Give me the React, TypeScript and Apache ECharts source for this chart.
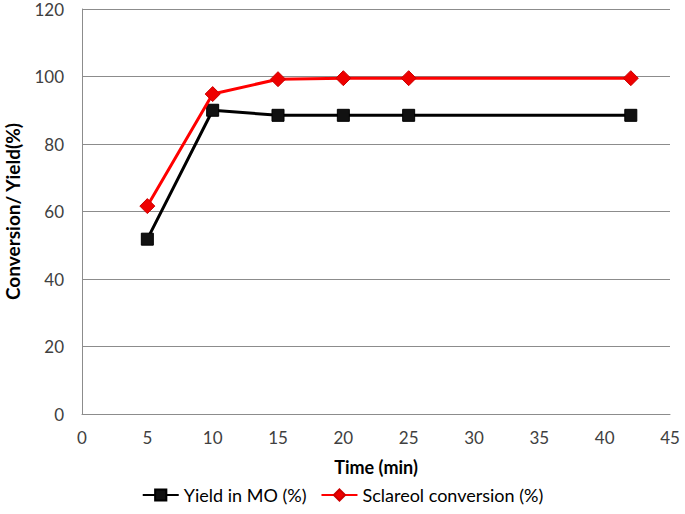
import React, { useEffect, useRef } from "react";
import * as echarts from "echarts";

const times = [5, 10, 15, 20, 25, 42];
const yieldMO = [51.8, 90, 88.5, 88.5, 88.5, 88.5];
const sclareolConv = [61.6, 94.8, 99.2, 99.5, 99.5, 99.5];
const yTicks = [0, 20, 40, 60, 80, 100, 120];

export default function App() {
  const ref = useRef<HTMLDivElement>(null);
  useEffect(() => {
    const chart = echarts.init(ref.current!, null, { renderer: "svg" });
    const font = "Lato";
    chart.setOption({
      animation: false,
      backgroundColor: "#ffffff",
      grid: { left: 82, right: 15, top: 9, bottom: 100, outerBoundsMode: "none", containLabel: false },
      xAxis: {
        type: "value",
        min: 0,
        max: 45,
        interval: 5,
        name: "Time (min)",
        nameLocation: "middle",
        nameGap: 44,
        nameTextStyle: { fontFamily: font, fontWeight: "bold", fontSize: 18, color: "#000" },
        axisLine: { show: true, lineStyle: { color: "#8c8c8c", width: 1 } },
        axisTick: { show: false },
        splitLine: { show: false },
        axisLabel: { fontFamily: font, fontSize: 17, color: "#404040", margin: 15 },
      },
      yAxis: {
        type: "value",
        min: yTicks[0],
        max: yTicks[yTicks.length - 1],
        interval: 20,
        name: "Conversion/ Yield(%)",
        nameLocation: "middle",
        nameGap: 60,
        nameTextStyle: { fontFamily: font, fontWeight: "bold", fontSize: 19, color: "#000" },
        axisLine: { show: true, lineStyle: { color: "#8c8c8c", width: 1 } },
        axisTick: { show: false },
        splitLine: { show: true, lineStyle: { color: "#8c8c8c", width: 1 } },
        axisLabel: { fontFamily: font, fontSize: 17, color: "#404040", margin: 18 },
      },
      legend: {
        bottom: 5,
        left: "center",
        itemWidth: 36,
        itemHeight: 14,
        itemGap: 14,
        textStyle: { fontFamily: font, fontSize: 18, color: "#000" },
        data: ["Yield in MO (%)", "Sclareol conversion (%)"],
      },
      series: [
        {
          name: "Yield in MO (%)",
          type: "line",
          data: times.map((t, i) => [t, yieldMO[i]]),
          symbol: "rect",
          symbolSize: 12,
          lineStyle: { color: "#000", width: 3 },
          itemStyle: { color: "#111", borderColor: "#000", borderWidth: 1 },
          z: 2,
        },
        {
          name: "Sclareol conversion (%)",
          type: "line",
          data: times.map((t, i) => [t, sclareolConv[i]]),
          symbol: "diamond",
          symbolSize: 15,
          lineStyle: { color: "#ff0000", width: 3 },
          itemStyle: { color: "#ee0000", borderColor: "#cc0000", borderWidth: 1 },
          z: 3,
        },
      ],
    });
    return () => chart.dispose();
  }, []);
  return <div ref={ref} style={{ width: 685, height: 514, position: "absolute", left: 0, top: 0 }} />;
}
